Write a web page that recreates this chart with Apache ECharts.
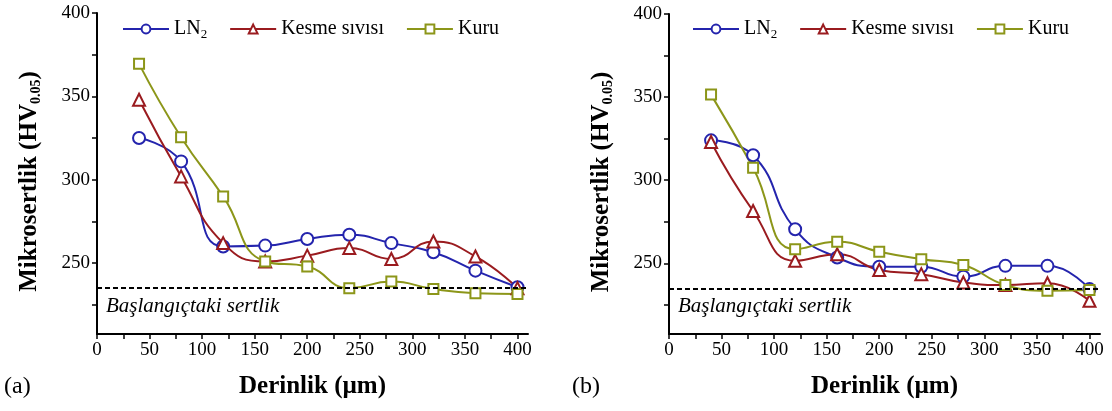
<!DOCTYPE html>
<html>
<head>
<meta charset="utf-8">
<script src="https://cdn.jsdelivr.net/npm/echarts@6/dist/echarts.min.js"></script>
<style>
  html, body { margin: 0; padding: 0; background: #fff; }
  #chart { width: 1112px; height: 411px; }
</style>
</head>
<body>
<div id="chart"></div>
<script>
const depth = [40, 80, 120, 160, 200, 240, 280, 320, 360, 400];

// (a)
const lnA = [325, 311, 260, 260.5, 264.5, 267, 262, 256.5, 245.5, 235.5];
const kesmeA = [348, 302, 262, 251, 254.5, 259, 252.5, 263, 254, 235];
const kuruA = [369.5, 325.5, 290, 251, 248, 235, 239, 234.5, 232, 231.5];

// (b)
const lnB = [324, 315, 270.5, 253.5, 248, 248, 242, 248.5, 248.5, 234.5];
const kesmeB = [323, 281.5, 251.5, 255.5, 246, 243.5, 238.5, 237, 238, 227.5];
const kuruB = [351.5, 307.5, 258.5, 263, 257, 252.5, 249, 237, 233.5, 234];

const initialHardness = 235;
const xLabels = [0, 50, 100, 150, 200, 250, 300, 350, 400];
const xTicks = [0, 25, 50, 75, 100, 125, 150, 175, 200, 225, 250, 275, 300, 325, 350, 375, 400];
const yLabels = [250, 300, 350, 400];
const yTicks = [225, 250, 275, 300, 325, 350, 375, 400];

const FONT = '"Liberation Serif", "Times New Roman", serif';
const BLUE = '#2424ad';
const RED = '#9a1b1f';
const OLIVE = '#8c9619';

const chart = echarts.init(document.getElementById('chart'));

function makeX(gridIndex) {
    return {
        type: 'value', gridIndex: gridIndex, min: 0, max: 410,
        axisLine: { lineStyle: { color: '#000', width: 2 } },
        axisTick: { customValues: xTicks, length: 5, lineStyle: { color: '#000', width: 1.5 } },
        axisLabel: { customValues: xLabels, color: '#000', fontFamily: FONT, fontSize: 19, margin: 7 },
        splitLine: { show: false },
        name: 'Derinlik (µm)', nameLocation: 'middle', nameGap: 40,
        nameTextStyle: { color: '#000', fontFamily: FONT, fontSize: 25, fontWeight: 'bold' }
    };
}

function makeY(gridIndex) {
    return {
        type: 'value', gridIndex: gridIndex, min: 207.5, max: 400,
        axisLine: { show: true, lineStyle: { color: '#000', width: 2 } },
        axisTick: { show: true, customValues: yTicks, length: 5, lineStyle: { color: '#000', width: 1.5 } },
        axisLabel: { customValues: yLabels, color: '#000', fontFamily: FONT, fontSize: 19, margin: 7 },
        splitLine: { show: false },
        name: '{b|Mikrosertlik (HV}{s|0.05}{b|)}', nameLocation: 'middle', nameGap: 54,
        nameTextStyle: {
            color: '#000',
            padding: [0, 16, 0, 0],
            rich: {
                b: { fontFamily: FONT, fontSize: 25, fontWeight: 'bold', color: '#000' },
                s: { fontFamily: FONT, fontSize: 14, fontWeight: 'bold', color: '#000', verticalAlign: 'bottom', padding: [12, 0, 0, 0] }
            }
        }
    };
}

function makeSeries(name, data, color, symbol, size, idx, withLine) {
    const s = {
        name: name, type: 'line', xAxisIndex: idx, yAxisIndex: idx,
        data: depth.map((d, i) => [d, data[i]]),
        smooth: 0.5,
        symbol: symbol, symbolSize: size,
        lineStyle: { color: color, width: 2 },
        itemStyle: { color: color, borderWidth: 1.2 },
        z: 3
    };
    if (withLine) {
        s.markLine = {
            silent: true, symbol: 'none',
            lineStyle: { color: '#000', type: [5, 3], width: 2 },
            label: {
                show: true, position: 'insideStartBottom', formatter: 'Başlangıçtaki sertlik',
                color: '#000', fontFamily: FONT, fontSize: 21, fontStyle: 'italic', distance: [9, 8]
            },
            data: [{ yAxis: initialHardness }]
        };
    }
    return s;
}

function makeLegend(left) {
    return {
        left: left, top: 14,
        itemWidth: 46, itemHeight: 11, itemGap: 22,
        data: ['LN2', 'Kesme sıvısı', 'Kuru'],
        formatter: n => n === 'LN2' ? '{t|LN}{s|2}' : '{t|' + n + '}',
        textStyle: {
            color: '#000',
            rich: {
                t: { fontFamily: FONT, fontSize: 20, color: '#000' },
                s: { fontFamily: FONT, fontSize: 13, color: '#000', verticalAlign: 'bottom', padding: [11, 0, 0, 0] }
            }
        }
    };
}

const option = {
    backgroundColor: '#fff',
    animation: false,
    grid: [
        { left: 97, right: 584, top: 13, bottom: 77 },
        { left: 669, right: 12, top: 14, bottom: 77 }
    ],
    xAxis: [makeX(0), makeX(1)],
    yAxis: [makeY(0), makeY(1)],
    legend: [makeLegend(117), makeLegend(687)],
    series: [
        makeSeries('LN2', lnA, BLUE, 'emptyCircle', 12, 0, true),
        makeSeries('Kesme sıvısı', kesmeA, RED, 'emptyTriangle', 12, 0, false),
        makeSeries('Kuru', kuruA, OLIVE, 'emptyRect', 10, 0, false),
        makeSeries('LN2', lnB, BLUE, 'emptyCircle', 12, 1, true),
        makeSeries('Kesme sıvısı', kesmeB, RED, 'emptyTriangle', 12, 1, false),
        makeSeries('Kuru', kuruB, OLIVE, 'emptyRect', 10, 1, false)
    ],
    graphic: [
        { type: 'text', left: 4, top: 375, style: { text: '(a)', font: '24px ' + FONT, fill: '#000' } },
        { type: 'text', left: 572, top: 375, style: { text: '(b)', font: '24px ' + FONT, fill: '#000' } }
    ]
};

chart.setOption(option);
</script>
</body>
</html>
